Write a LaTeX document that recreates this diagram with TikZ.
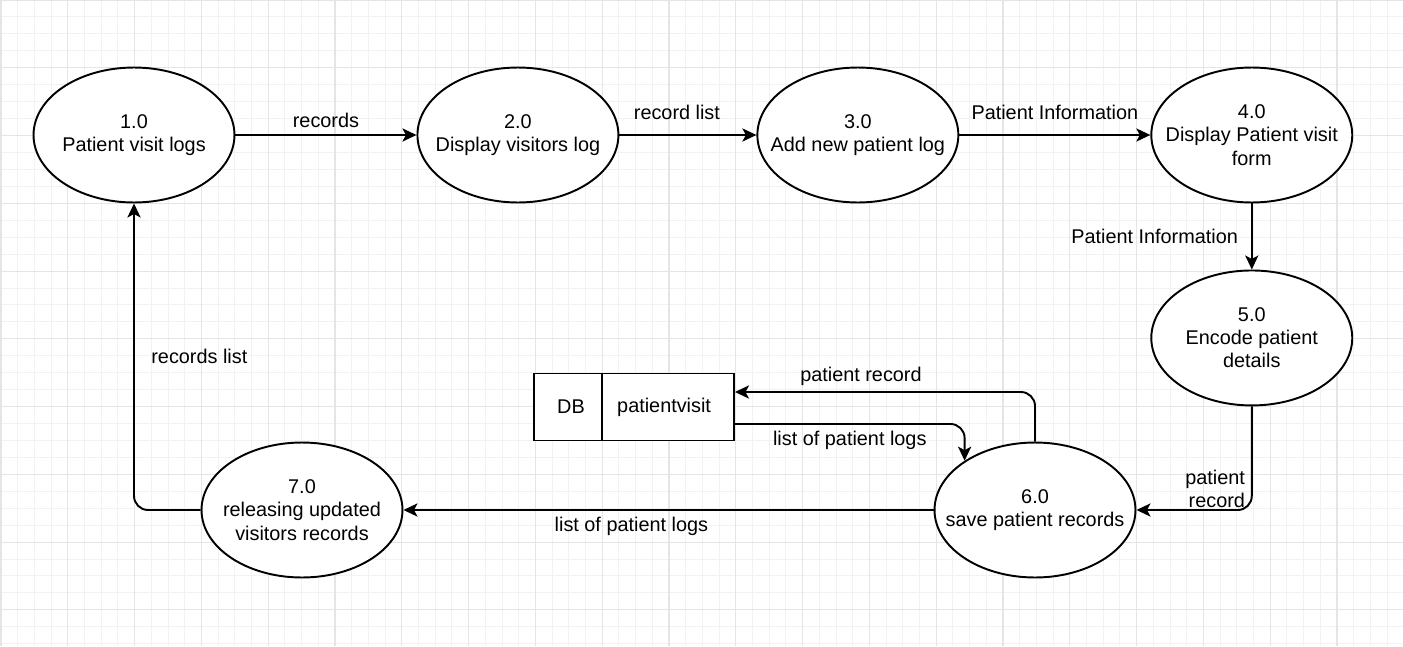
\documentclass[tikz,border=0pt]{standalone}
\usepackage{fontspec}
\setmainfont{Liberation Sans}
\usetikzlibrary{shapes.geometric, arrows.meta, positioning}

\tikzset{
    proc/.style={ellipse, draw, fill=white, line width=1.1pt, minimum width=4.02cm, minimum height=2.7cm, inner xsep=-0.5cm, inner ysep=0pt, align=center},
    store/.style={rectangle, draw, fill=white, line width=1.1pt, minimum width=4cm, minimum height=1.34cm, inner sep=0pt},
    flow/.style={-{Stealth[length=8pt, width=7.5pt, inset=2pt]}, line width=1.1pt, rounded corners=8pt},
    gridminor/.style={black!5, line width=0.55pt},
    gridmajor/.style={black!10, line width=0.6pt}
}

\begin{document}
\begin{tikzpicture}[x=0.02cm, y=-0.02cm, font=\fontsize{11.3}{13.2}\selectfont, node distance=1.5cm]
    \useasboundingbox [fill=white] (0,0) rectangle (1403,646);
    % background grid
    \foreach \i in {0,...,84} \draw [gridminor] (\i*16.7+1,0) -- (\i*16.7+1,646);
    \foreach \j in {0,...,38} \draw [gridminor] (0,\j*16.94) -- (1403,\j*16.94);
    \foreach \i in {0,...,21} \draw [gridmajor] (\i*66.8+1,0) -- (\i*66.8+1,646);
    \foreach \j in {0,...,9} \draw [gridmajor] (0,\j*67.76) -- (1403,\j*67.76);

    % processes
    \node [proc] (one) at (134,135) {1.0\\Patient visit logs};
    \node [proc] (two) [right of=one, node distance=7.68cm] {2.0\\Display visitors log};
    \node [proc] (three) [right of=two, node distance=6.8cm] {3.0\\Add new patient log};
    \node [proc] (four) [right of=three, node distance=7.88cm] {4.0\\Display Patient visit\\form};
    \node [proc] (five) [below of=four, node distance=4.06cm] {5.0\\Encode patient\\details};
    \node [proc] (six) at (1035,510) {6.0\\save patient records};
    \node [proc] (seven) at (302,510) {7.0\\releasing updated\\visitors records};

    % data store
    \node [store] (db) at (634,407) {};
    \draw [line width=1.1pt] ([xshift=1.38cm]db.north west) -- ([xshift=1.38cm]db.south west);
    \node (dbtag) at (571,407) {DB};
    \node (dbname) [anchor=west] at (611,407) {patientvisit};

    % flows
    \path [flow] (one) edge node [above] {records} (two);
    \path [flow] (two) edge node [above=5pt, pos=0.42] {record list} (three);
    \path [flow] (three) edge node [above=5pt] {Patient Information} (four);
    \path [flow] (four) edge node [left=4pt] {Patient Information} (five);
    \draw [flow] (five.south) |- node [pos=0.4, left, align=right] {patient\\record} (six.east);
    \draw [flow] (six.north) |- node [pos=0.79, above] {patient record} ([yshift=0.3cm]db.east);
    \draw [flow] ([yshift=-0.34cm]db.east) -| node [pos=0.25, below] {list of patient logs} (six.145);
    \draw [flow] (six) -- node [pos=0.57, below] {list of patient logs} (seven);
    \draw [flow] (seven.west) -| node [pos=0.75, right=6pt] {records list} (one.south);
\end{tikzpicture}
\end{document}
